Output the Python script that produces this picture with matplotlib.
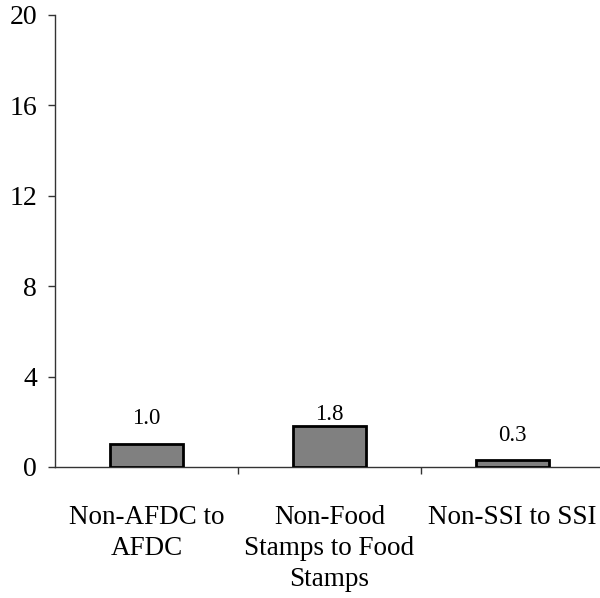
import matplotlib.pyplot as plt
import numpy as np

categories = ['Non-AFDC to\nAFDC', 'Non-Food\nStamps to Food\nStamps', 'Non-SSI to SSI']
values = [1.0, 1.8, 0.3]
value_labels = ['1.0', '1.8', '0.3']
label_offsets = [11, 1, 10]  # points above bar top
yticks = [0, 4, 8, 12, 16, 20]

plt.rcParams['font.family'] = ['Liberation Serif', 'DejaVu Serif']

fig = plt.figure(figsize=(6.0, 5.98), dpi=100)
ax = fig.add_axes([55 / 600, 131 / 598, 549 / 600, 452 / 598])

x = np.arange(len(categories))
ax.bar(x, values, width=0.4, color='#808080', edgecolor='black', linewidth=2, zorder=3)

for xi, v, lab, off in zip(x, values, value_labels, label_offsets):
    ax.annotate(lab, (xi, v), xytext=(0, off), textcoords='offset points',
                ha='center', va='bottom', fontsize=16.5)

ax.set_xlim(-0.5, len(categories) - 0.5)
ax.set_ylim(0, 20)
ax.set_yticks(yticks)
ax.set_yticklabels([str(t) for t in yticks], fontsize=20)

ax.set_xticks(x)
ax.set_xticklabels(categories, fontsize=19.5, linespacing=1.34)
ax.set_xticks(np.arange(0.5, len(categories) - 0.5), minor=True)
ax.tick_params(axis='x', which='major', length=0, pad=27)
ax.tick_params(axis='x', which='minor', length=5, width=1, color='#333333', direction='out')
ax.tick_params(axis='y', length=5, width=1, color='#333333', direction='out', pad=8)

for side in ['top', 'right']:
    ax.spines[side].set_visible(False)
for side in ['left', 'bottom']:
    ax.spines[side].set_color('#333333')
    ax.spines[side].set_linewidth(1)

fig.savefig('out.png', dpi=100)
